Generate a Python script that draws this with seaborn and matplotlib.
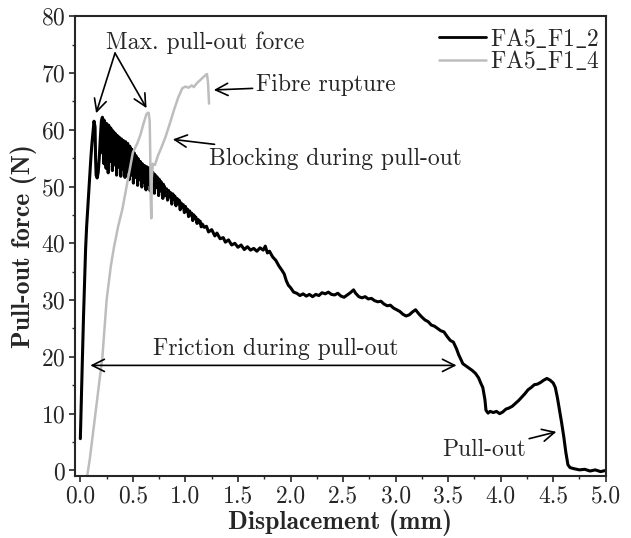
import pandas as pd
import seaborn as sns
import matplotlib.pyplot as plt
from matplotlib.ticker import MultipleLocator

# FA5_F1_2 (black curve): displacement (mm) / force (N)
x_f2 = [0.00, 0.01, 0.02, 0.03, 0.04, 0.05, 0.06, 0.07, 0.08, 0.09, 0.10, 0.11, 0.12, 0.13, 0.14, 0.145,
        0.15, 0.16, 0.17, 0.18, 0.19, 0.20,
        0.210, 0.215, 0.220, 0.225, 0.230, 0.235, 0.240, 0.245, 0.250, 0.255, 0.260, 0.265, 0.270, 0.275,
        0.280, 0.285, 0.290, 0.295, 0.300, 0.305, 0.310, 0.315, 0.320, 0.325, 0.330, 0.335, 0.340, 0.345,
        0.350, 0.355, 0.360, 0.365, 0.370, 0.375, 0.380, 0.385, 0.390, 0.395, 0.400, 0.405, 0.410, 0.415,
        0.420, 0.425, 0.430, 0.435, 0.440, 0.445, 0.450, 0.455, 0.460, 0.465, 0.470, 0.475, 0.480, 0.485,
        0.490, 0.495, 0.500, 0.505, 0.510, 0.515, 0.520, 0.525, 0.530, 0.535, 0.540, 0.545, 0.550, 0.555,
        0.560, 0.565, 0.570, 0.575, 0.580, 0.585, 0.590, 0.595, 0.600, 0.605, 0.610, 0.615, 0.620, 0.625,
        0.630, 0.635, 0.640, 0.645, 0.650, 0.655, 0.660, 0.665, 0.670, 0.675, 0.680, 0.685, 0.690, 0.695,
        0.700, 0.705, 0.710, 0.715, 0.720, 0.725, 0.730, 0.735, 0.740, 0.745, 0.750, 0.755, 0.760, 0.765,
        0.770, 0.775, 0.780, 0.785, 0.790, 0.795, 0.800,
        0.81, 0.82, 0.83, 0.84, 0.85, 0.86, 0.87, 0.88, 0.89, 0.90, 0.91, 0.92, 0.93, 0.94, 0.95, 0.96,
        0.97, 0.98, 0.99, 1.00, 1.01, 1.02, 1.03, 1.04, 1.05, 1.06, 1.07, 1.08, 1.09, 1.10, 1.11, 1.12,
        1.13, 1.14, 1.15, 1.16, 1.18, 1.20,
        1.22, 1.25, 1.28, 1.30, 1.33, 1.36, 1.38, 1.41, 1.44, 1.47, 1.50, 1.53, 1.56, 1.59, 1.62,
        1.65, 1.68, 1.71, 1.74, 1.76, 1.78, 1.80, 1.83, 1.86, 1.89, 1.92, 1.94, 1.96, 1.98, 2.00, 2.03,
        2.06, 2.09, 2.12, 2.15, 2.18, 2.21, 2.24, 2.27, 2.30, 2.33, 2.36, 2.39, 2.42, 2.45, 2.48, 2.51,
        2.54, 2.57, 2.60, 2.62, 2.65, 2.68, 2.71, 2.74, 2.77, 2.80, 2.83, 2.86, 2.89, 2.92, 2.95, 2.98,
        3.01, 3.04, 3.07, 3.10, 3.13, 3.16, 3.19, 3.22, 3.25, 3.28, 3.31, 3.34, 3.37, 3.40, 3.43, 3.46,
        3.49, 3.52, 3.55, 3.58, 3.60, 3.62, 3.64, 3.67, 3.70, 3.73, 3.76, 3.79, 3.81, 3.83, 3.85, 3.86,
        3.88, 3.90, 3.93, 3.96, 3.99, 4.02, 4.05, 4.08, 4.11, 4.14, 4.17, 4.20, 4.23, 4.26, 4.29, 4.32,
        4.35, 4.38, 4.41, 4.44, 4.47, 4.50, 4.52, 4.54, 4.56, 4.58, 4.60, 4.62, 4.64, 4.66, 4.70, 4.75,
        4.80, 4.85, 4.90, 4.95, 5.00]
f_f2 = [5.6, 13.0, 20.0, 27.0, 33.0, 39.0, 43.0, 46.0, 49.0, 52.0, 55.0, 57.5, 59.5, 61.5, 60.5, 55.0,
        52.0, 51.5, 52.5, 55.0, 58.5, 61.5,
        62.2, 55.8, 61.8, 54.0, 61.6, 57.5, 61.0, 53.2, 61.1, 58.0, 60.6, 52.4, 60.8, 56.5,
        60.2, 54.4, 60.3, 57.8, 59.8, 52.8, 59.8, 56.8, 59.4, 53.8, 59.4, 57.2, 59.0, 52.0,
        59.0, 55.8, 58.6, 53.4, 58.7, 56.9, 58.3, 51.8, 58.4, 55.4, 58.1, 53.0, 58.1, 56.3,
        57.8, 51.6, 57.9, 55.2, 57.5, 52.6, 57.6, 55.9, 57.1, 51.2, 57.1, 54.8, 56.7, 52.0,
        56.5, 54.6, 56.1, 50.6, 56.0, 54.3, 55.5, 51.6, 55.4, 53.8, 54.9, 50.2, 54.9, 53.4,
        54.4, 51.2, 54.4, 53.1, 54.0, 49.9, 54.0, 52.8, 53.7, 50.8, 53.7, 52.5, 53.4, 49.4,
        53.5, 52.2, 53.2, 50.4, 53.3, 52.0, 52.9, 49.2, 52.9, 51.7, 52.5, 50.2, 52.5, 51.4,
        52.1, 48.8, 52.1, 51.1, 51.7, 49.8, 51.7, 50.9, 51.3, 48.4, 51.3, 50.5, 50.9, 49.2,
        50.8, 50.2, 50.4, 47.9, 50.4, 49.9, 50.0,
        48.4, 49.6, 47.6, 49.3, 48.2, 48.9, 46.9, 48.7, 47.7, 48.3, 46.6, 47.9, 47.0, 47.6, 45.9, 47.1,
        46.4, 46.8, 45.4, 46.5, 45.7, 46.0, 44.7, 45.7, 45.0, 45.3, 44.0, 45.0, 44.4, 44.6, 43.5, 44.2,
        43.6, 43.9, 42.9, 43.4, 42.8, 43.0,
        42.0, 42.4, 41.3, 41.8, 40.8, 41.0, 40.2, 40.6, 39.7, 40.0, 39.3, 39.7, 38.9, 39.4, 38.8,
        39.1, 38.6, 39.2, 38.8, 39.5, 38.3, 38.6, 37.6, 37.0, 36.0, 35.2, 34.6, 33.4, 32.6, 32.2, 31.4,
        31.2, 30.8, 31.1, 30.7, 31.0, 30.6, 31.0, 30.8, 31.3, 31.1, 31.4, 31.0, 30.9, 31.2, 30.7, 30.5,
        30.9, 31.3, 31.8, 31.2, 30.6, 30.4, 30.6, 30.2, 30.3, 29.9, 29.7, 29.8, 29.3, 29.0, 29.1, 28.6,
        28.3, 28.0, 27.5, 27.2, 27.4, 27.9, 28.3, 27.6, 27.0, 26.5, 26.2, 25.6, 25.4, 25.0, 24.6, 24.4,
        23.6, 22.9, 22.6, 21.4, 20.4, 19.6, 18.8, 18.4, 18.0, 17.6, 17.1, 16.3, 15.4, 14.6, 12.5, 10.6,
        10.1, 10.4, 10.2, 10.4, 10.0, 10.3, 10.8, 11.0, 11.3, 11.8, 12.3, 12.9, 13.5, 14.2, 14.6, 15.1,
        15.2, 15.5, 15.9, 16.2, 15.9, 15.4, 14.6, 12.8, 10.6, 8.4, 6.0, 3.2, 1.0, 0.5, 0.3, 0.1,
        0.2, -0.1, 0.1, -0.2, 0.0]

# FA5_F1_4 (grey curve)
x_f4 = [0.065, 0.09, 0.12, 0.15, 0.18, 0.21, 0.25, 0.29, 0.32, 0.36, 0.40, 0.44, 0.47, 0.50, 0.54,
        0.57, 0.60, 0.63, 0.65, 0.66, 0.665, 0.67, 0.675, 0.68, 0.69, 0.71, 0.74, 0.77, 0.81, 0.85,
        0.89, 0.93, 0.97, 1.00, 1.03, 1.06, 1.08, 1.10, 1.12, 1.15, 1.19, 1.205, 1.215, 1.225]
f_f4 = [-1.0, 2.0, 6.5, 11.0, 15.5, 20.0, 30.0, 36.0, 39.3, 43.0, 46.0, 50.0, 53.0, 56.0, 57.5,
        59.0, 61.0, 62.8, 63.0, 61.5, 56.0, 48.0, 44.4, 51.5, 54.0, 53.8, 55.5, 56.8, 58.7, 61.0,
        63.4, 65.6, 67.3, 67.6, 67.4, 67.8, 67.5, 68.0, 68.4, 68.9, 69.6, 69.8, 68.3, 64.6]

labels = ['FA5_F1_2', 'FA5_F1_4']
legend_labels = [r'FA5$\_$F1$\_$2', r'FA5$\_$F1$\_$4']

df = pd.concat([
    pd.DataFrame({'Displacement': x_f2, 'Force': f_f2, 'Sample': labels[0]}),
    pd.DataFrame({'Displacement': x_f4, 'Force': f_f4, 'Sample': labels[1]}),
], ignore_index=True)

sns.set_style('ticks')
plt.rcParams['font.family'] = ['cmr10', 'DejaVu Serif']
plt.rcParams['axes.formatter.use_mathtext'] = True
plt.rcParams['mathtext.fontset'] = 'cm'

fig = plt.figure(figsize=(6.31, 5.38), dpi=100)
ax = fig.add_axes([0.119, 0.115, 0.841, 0.855])

sns.lineplot(data=df, x='Displacement', y='Force', hue='Sample', sort=False, estimator=None,
             palette={labels[0]: 'black', labels[1]: '#bdbdbd'}, linewidth=1.6, ax=ax)
ax.lines[0].set_linewidth(2.2)
ax.lines[1].set_linewidth(1.8)

ax.set_xlim(-0.05, 5.0)
ax.set_ylim(-1, 80)
ax.xaxis.set_major_locator(MultipleLocator(0.5))
ax.xaxis.set_minor_locator(MultipleLocator(0.25))
ax.yaxis.set_major_locator(MultipleLocator(10))
ax.yaxis.set_minor_locator(MultipleLocator(5))
ax.xaxis.set_major_formatter(plt.FuncFormatter(lambda v, p: f'{v:.1f}'))
ax.tick_params(which='major', direction='out', length=4, width=1.2, labelsize=17, pad=3)
ax.tick_params(which='minor', direction='out', length=2.5, width=1.0)
for s in ax.spines.values():
    s.set_linewidth(1.5)

ax.set_xlabel('Displacement (mm)', fontsize=18.5, family='cmb10', labelpad=1)
ax.set_ylabel('Pull-out force (N)', fontsize=18.5, family='cmb10', labelpad=3)

handles, _ = ax.get_legend_handles_labels()
handles[0].set_linewidth(2.0)
handles[1].set_linewidth(1.8)
ax.legend(handles=handles, labels=legend_labels, loc='upper right', bbox_to_anchor=(0.9944, 0.9826),
          frameon=False, fontsize=17, handlelength=2.0, handletextpad=0.2, borderaxespad=0.0,
          borderpad=0.1, labelspacing=-0.06)

# annotations
arr = dict(arrowstyle='->', color='black', lw=1.2, mutation_scale=22, shrinkA=0, shrinkB=0)
ax.text(1.19, 75.4, 'Max. pull-out force', fontsize=17, ha='center', va='center')
ax.annotate('', xy=(0.15, 62.9), xytext=(0.33, 73.5), arrowprops=arr)
ax.annotate('', xy=(0.63, 63.8), xytext=(0.33, 73.5), arrowprops=arr)
ax.annotate('Fibre rupture', xy=(1.27, 67.0), xytext=(1.67, 67.8), fontsize=17,
            ha='left', va='center', arrowprops=arr)
ax.annotate('Blocking during pull-out', xy=(0.88, 58.3), xytext=(1.22, 54.9), fontsize=17,
            ha='left', va='center', arrowprops=arr)
ax.annotate('', xy=(0.095, 18.5), xytext=(3.58, 18.5),
            arrowprops=dict(arrowstyle='<->', color='black', lw=1.2, mutation_scale=22,
                            shrinkA=0, shrinkB=0))
ax.text(1.86, 21.4, 'Friction during pull-out', fontsize=17, ha='center', va='center')
ax.annotate('Pull-out', xy=(4.53, 6.8), xytext=(4.24, 3.6), fontsize=17,
            ha='right', va='center', arrowprops=arr)

fig.savefig('out.png', dpi=100)
